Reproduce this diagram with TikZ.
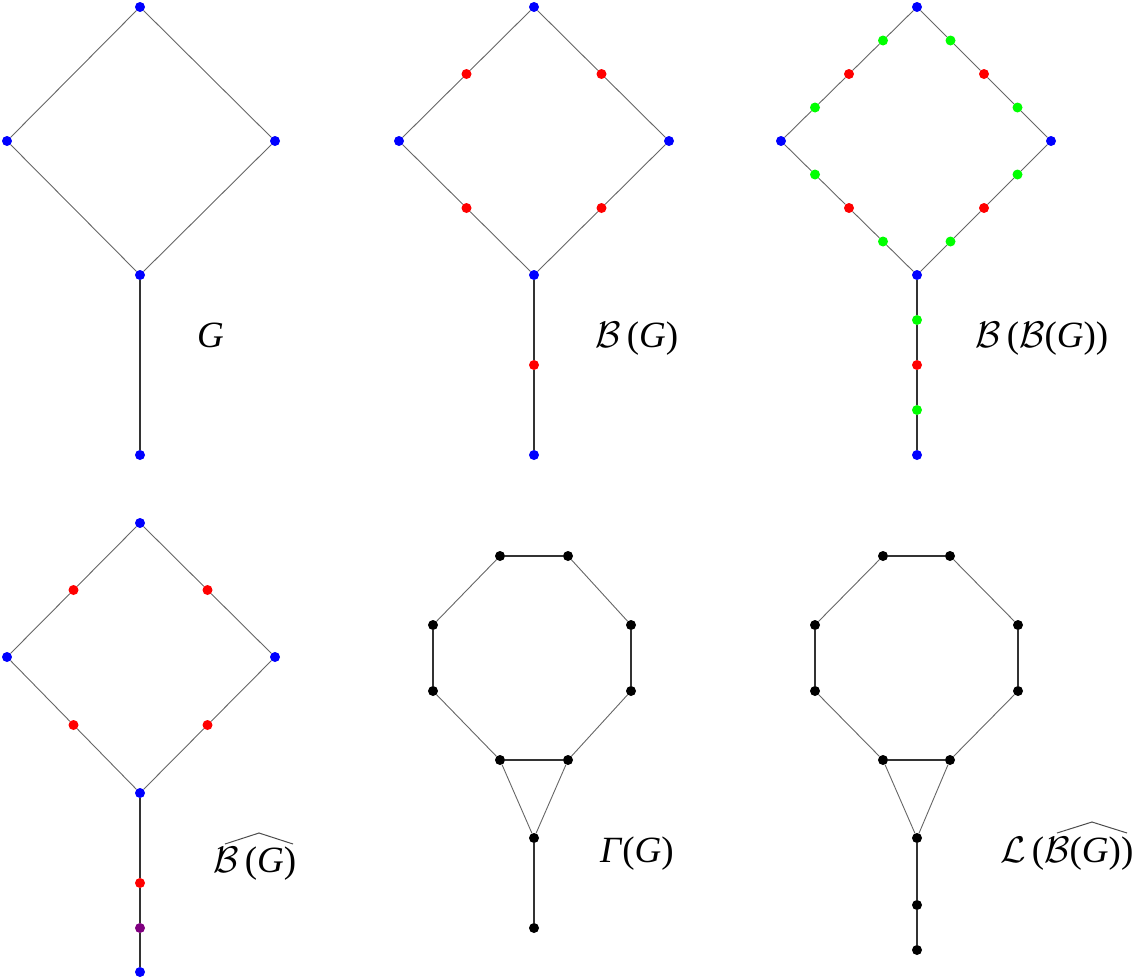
\RequirePackage{fix-cm}
\documentclass[tikz,border=0pt]{standalone}
\usepackage{fontspec}
\setmainfont{Liberation Serif}
\definecolor{vpurple}{RGB}{128,0,128}
\definecolor{vgreen}{RGB}{0,255,0}
\definecolor{vblue}{RGB}{0,0,255}
\definecolor{vred}{RGB}{255,0,0}
\newcommand{\lp}{\textup{(}}
\newcommand{\rp}{\textup{)}}
\newcommand{\calB}{$\mathcal{B}$}
\newcommand{\calL}{$\mathcal{L}$}
\begin{document}
\begin{tikzpicture}[x=1pt,y=-1pt,
  v/.style={circle,fill=#1,inner sep=0pt,minimum size=10pt},
  ed/.style={line width=0.9pt,draw=black!60},
  st/.style={line width=1.8pt,draw=black!80},
  hatline/.style={line width=1pt,draw=black!70},
  lab/.style={anchor=base west,inner sep=0pt,font=\fontsize{37}{40}\selectfont\itshape}]
\useasboundingbox (0,0) rectangle (1138,980);
% ---------- Panel 1: G
\node[v=vblue] (a1) at (140,7) {};
\node[v=vblue] (a2) at (7,141) {};
\node[v=vblue] (a3) at (275,141) {};
\node[v=vblue] (a4) at (140,275) {};
\node[v=vblue] (a5) at (140,455) {};
\draw[ed] (a1)--(a2)--(a4)--(a3)--(a1);
\draw[st] (a4)--(a5);
\node[lab] (l1) at (197,347) {G};
% ---------- Panel 2: B(G)
\node[v=vblue] (b1) at (534,7) {};
\node[v=vblue] (b2) at (399,141) {};
\node[v=vblue] (b3) at (669,141) {};
\node[v=vblue] (b4) at (534,275) {};
\node[v=vblue] (b5) at (534,455) {};
\node[v=vred] (b12) at (466.5,74) {};
\node[v=vred] (b13) at (601.5,74) {};
\node[v=vred] (b24) at (466.5,208) {};
\node[v=vred] (b34) at (601.5,208) {};
\node[v=vred] (b45) at (534,365) {};
\draw[ed] (b1)--(b12)--(b2)--(b24)--(b4)--(b34)--(b3)--(b13)--(b1);
\draw[st] (b4)--(b45)--(b5);
\node[lab] (l2) at (595,347) {\calB\,\lp G\rp};
% ---------- Panel 3: B(B(G))
\node[v=vblue] (c1) at (917,7) {};
\node[v=vblue] (c2) at (781,141) {};
\node[v=vblue] (c3) at (1051,141) {};
\node[v=vblue] (c4) at (917,275) {};
\node[v=vblue] (c5) at (917,455) {};
\node[v=vgreen] (c12a) at (883,40.5) {};
\node[v=vred]   (c12b) at (849,74) {};
\node[v=vgreen] (c12c) at (815,107.5) {};
\node[v=vgreen] (c13a) at (950.5,40.5) {};
\node[v=vred]   (c13b) at (984,74) {};
\node[v=vgreen] (c13c) at (1017.5,107.5) {};
\node[v=vgreen] (c24a) at (815,174.5) {};
\node[v=vred]   (c24b) at (849,208) {};
\node[v=vgreen] (c24c) at (883,241.5) {};
\node[v=vgreen] (c34a) at (1017.5,174.5) {};
\node[v=vred]   (c34b) at (984,208) {};
\node[v=vgreen] (c34c) at (950.5,241.5) {};
\node[v=vgreen] (c45a) at (917,320) {};
\node[v=vred]   (c45b) at (917,365) {};
\node[v=vgreen] (c45c) at (917,410) {};
\draw[ed] (c1)--(c12a)--(c12b)--(c12c)--(c2)--(c24a)--(c24b)--(c24c)--(c4)
  --(c34c)--(c34b)--(c34a)--(c3)--(c13c)--(c13b)--(c13a)--(c1);
\draw[st] (c4)--(c45a)--(c45b)--(c45c)--(c5);
\node[lab] (l3) at (975,347) {\calB\,\lp\calB\lp G\rp\rp};
% ---------- Panel 4: hat B(G)
\node[v=vblue] (d1) at (140,523) {};
\node[v=vblue] (d2) at (7,657) {};
\node[v=vblue] (d3) at (275,657) {};
\node[v=vblue] (d4) at (140,793) {};
\node[v=vred] (d12) at (73.5,590) {};
\node[v=vred] (d13) at (207.5,590) {};
\node[v=vred] (d24) at (73.5,725) {};
\node[v=vred] (d34) at (207.5,725) {};
\node[v=vred] (d5) at (140,883) {};
\node[v=vpurple] (d6) at (140,928) {};
\node[v=vblue] (d7) at (140,972) {};
\draw[ed] (d1)--(d12)--(d2)--(d24)--(d4)--(d34)--(d3)--(d13)--(d1);
\draw[st] (d4)--(d5)--(d6)--(d7);
\node[lab] (l4) at (213,872) {\calB\,\lp G\rp};
\coordinate (h4l) at (225,844);
\coordinate (h4p) at (259,833);
\coordinate (h4r) at (293,844);
\draw[hatline] (h4l)--(h4p)--(h4r);
% ---------- Panel 5: Gamma(G)
\node[v=black] (e1) at (500,556) {};
\node[v=black] (e2) at (568,556) {};
\node[v=black] (e3) at (631,625) {};
\node[v=black] (e4) at (631,691) {};
\node[v=black] (e5) at (568,760) {};
\node[v=black] (e6) at (500,760) {};
\node[v=black] (e7) at (433,691) {};
\node[v=black] (e8) at (433,625) {};
\node[v=black] (e9) at (534,838) {};
\node[v=black] (e10) at (534,928) {};
\draw[st] (e1)--(e2) (e3)--(e4) (e5)--(e6) (e7)--(e8) (e9)--(e10);
\draw[ed] (e2)--(e3) (e4)--(e5) (e6)--(e7) (e8)--(e1) (e6)--(e9)--(e5);
\node[lab] (l5) at (600,862) {Γ\lp G\rp};
% ---------- Panel 6: L(hat B(G))
\node[v=black] (f1) at (883,556) {};
\node[v=black] (f2) at (950,556) {};
\node[v=black] (f3) at (1018,625) {};
\node[v=black] (f4) at (1018,691) {};
\node[v=black] (f5) at (950,760) {};
\node[v=black] (f6) at (883,760) {};
\node[v=black] (f7) at (815,691) {};
\node[v=black] (f8) at (815,625) {};
\node[v=black] (f9) at (917,838) {};
\node[v=black] (f10) at (917,905) {};
\node[v=black] (f11) at (917,950) {};
\draw[st] (f1)--(f2) (f3)--(f4) (f5)--(f6) (f7)--(f8) (f9)--(f10)--(f11);
\draw[ed] (f2)--(f3) (f4)--(f5) (f6)--(f7) (f8)--(f1) (f6)--(f9)--(f5);
\node[lab] (l6) at (1000,862) {\calL\,\lp\calB\lp G\rp\rp};
\coordinate (h6l) at (1057,833);
\coordinate (h6p) at (1092,822);
\coordinate (h6r) at (1127,833);
\draw[hatline] (h6l)--(h6p)--(h6r);
\end{tikzpicture}
\end{document}
